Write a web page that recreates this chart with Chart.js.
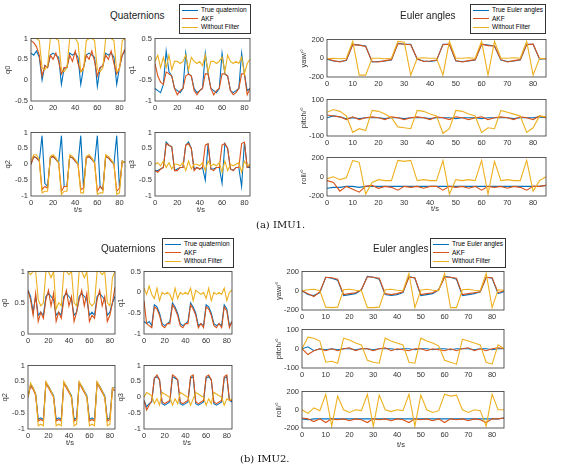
<!DOCTYPE html>
<html><head><meta charset="utf-8">
<script src="https://cdn.jsdelivr.net/npm/chart.js@4.4.0/dist/chart.umd.min.js"></script>
<style>
body{margin:0;background:#fff;width:565px;height:465px;position:relative;overflow:hidden;font-family:"Liberation Sans",Arial,sans-serif}
canvas{position:absolute}
.t{position:absolute;font-size:10px;color:#222;white-space:nowrap}
.lg{position:absolute;border:1px solid #333;background:#fff;font-size:6.5px;padding:1px 2px;line-height:8.5px;white-space:nowrap;box-sizing:border-box}
.lg i{display:inline-block;width:16px;height:0;border-top:1.6px solid;vertical-align:middle;margin-right:3px}
.cap{position:absolute;font-family:"DejaVu Serif","Liberation Serif",serif;font-size:10px;color:#111}
.xl{position:absolute;font-size:7.5px;color:#333}
</style></head><body>
<script>
const t=[0,2.5,5,7.5,10,12.5,15,17.5,20,22.5,25,27.5,30,32.5,35,37.5,40,42.5,45,47.5,50,52.5,55,57.5,60,62.5,65,67.5,70,72.5,75,77.5,80,82.5,85];
const seriesNames=["True quaternion","AKF","Without Filter"];
const eulerNames=["True Euler angles","AKF","Without Filter"];
const quatTicks=[0,20,40,60,80];
const eulerTicks=[0,10,20,30,40,50,60,70,80];
// IMU1 quaternions
const a_q0_true=[0.65,0.6,0.7,0.55,0.0,0.35,0.3,0.6,0.65,0.6,0.55,-0.1,0.3,0.3,0.65,0.6,0.65,0.55,-0.1,0.3,0.6,0.65,0.6,0.55,-0.15,0.3,0.35,0.65,0.6,0.65,0.55,-0.1,0.3,0.6,0.7];
const a_q0_akf=[0.95,0.9,0.8,0.6,0.1,0.35,0.3,0.6,0.5,0.65,0.45,0.15,0.3,0.3,0.6,0.45,0.7,0.4,0.2,0.3,0.6,0.5,0.7,0.45,0.1,0.3,0.35,0.6,0.5,0.7,0.4,0.15,0.3,0.6,0.75];
const a_q0_raw=[1,1,1,0.95,0.3,0.25,0.35,1,1,1,0.95,0.25,0.2,0.3,1,1,1,0.9,0.2,0.25,0.95,1,1,0.95,0.25,0.2,0.3,1,1,1,0.95,0.2,0.25,0.95,1];
const a_q1_true=[-0.7,-0.75,-0.8,-0.6,0.2,-0.3,-0.4,-0.7,-0.75,-0.8,-0.7,0.15,-0.35,-0.4,-0.7,-0.8,-0.75,-0.7,0.15,-0.35,-0.7,-0.75,-0.8,-0.7,0.15,-0.35,-0.4,-0.75,-0.8,-0.75,-0.7,0.15,-0.35,-0.75,-0.7];
const a_q1_akf=[-0.1,-0.4,-0.55,-0.6,-0.3,-0.35,-0.4,-0.7,-0.85,-0.75,-0.7,-0.4,-0.35,-0.4,-0.75,-0.85,-0.75,-0.7,-0.35,-0.35,-0.7,-0.85,-0.75,-0.7,-0.35,-0.35,-0.4,-0.75,-0.85,-0.8,-0.7,-0.35,-0.35,-0.85,-0.7];
const a_q1_raw=[-0.05,0.1,-0.2,0.05,-0.2,0.1,-0.25,-0.05,-0.05,-0.1,-0.05,0.1,-0.25,0.05,-0.05,-0.1,-0.05,-0.15,0.1,-0.3,-0.05,-0.05,-0.1,-0.05,0.05,-0.3,0.1,-0.05,-0.1,-0.05,-0.1,0.05,-0.35,-0.1,0];
const a_q2_true=[0,0.25,0.2,0.1,0.9,-0.6,-0.7,0.2,0.25,0.15,0.05,0.9,-0.7,-0.7,0.25,0.2,0.1,0,0.9,-0.75,0.2,0.25,0.15,0.05,0.9,-0.7,-0.8,0.25,0.2,0.1,0,0.9,-0.75,0.1,0.05];
const a_q2_akf=[0,0.25,0.2,0.1,-0.8,-0.7,-0.75,0.2,0.25,0.15,0.05,-0.85,-0.7,-0.7,0.25,0.2,0.1,0,-0.8,-0.75,0.2,0.25,0.15,0.05,-0.85,-0.7,-0.8,0.25,0.2,0.1,0,-0.85,-0.75,0.1,0.05];
const a_q2_raw=[0.1,0.3,0.3,0.15,-0.9,-0.85,-0.85,0.25,0.3,0.2,0.05,-0.95,-0.85,-0.85,0.3,0.25,0.15,0,-0.9,-0.9,0.25,0.3,0.2,0.05,-0.95,-0.9,-0.9,0.3,0.25,0.15,0,-0.95,-0.9,0.1,0.05];
const a_q3_true=[-0.2,-0.2,-0.15,-0.1,0.7,0.6,0.55,-0.2,-0.15,-0.1,-0.1,0.6,0.7,0.5,-0.15,-0.1,-0.15,-0.1,-0.5,0.65,-0.15,-0.15,-0.1,-0.1,-0.6,0.65,0.5,-0.15,-0.2,-0.1,-0.1,-0.7,0.7,-0.1,-0.1];
const a_q3_akf=[-0.2,-0.25,-0.15,-0.1,0.65,0.6,0.55,-0.2,-0.2,-0.1,-0.1,0.6,0.65,0.5,-0.2,-0.1,-0.15,-0.1,0.6,0.65,-0.15,-0.2,-0.1,-0.1,0.6,0.65,0.5,-0.15,-0.2,-0.1,-0.1,0.65,0.7,-0.1,-0.05];
const a_q3_raw=[0,0.05,-0.05,0.1,-0.1,0.05,-0.15,0,0,-0.05,0.05,-0.2,0.1,-0.15,0,0,-0.05,0.05,-0.2,0.1,-0.05,0,-0.05,0.05,-0.25,0.1,-0.2,0,-0.05,0,0.05,-0.25,0.1,-0.05,0];
// IMU1 Euler
const a_yaw_true=[-10,-30,-35,-25,150,140,130,-40,-35,-30,-20,160,150,150,-10,-30,-35,-25,150,150,-30,-35,-30,-20,150,140,130,-20,-35,-30,-20,150,150,-10,-5];
const a_yaw_akf=[-5,-25,-40,-20,145,140,125,-35,-40,-25,-15,155,150,145,-5,-35,-30,-20,145,150,-25,-40,-25,-15,150,135,130,-15,-40,-25,-15,145,150,-5,-5];
const a_yaw_raw=[-5,0,-5,0,180,-180,-180,0,0,-5,0,180,170,-180,0,5,0,0,-180,180,0,0,5,0,180,-180,180,0,0,5,0,180,-180,0,-5];
const a_pit_true=[0,10,5,-5,0,-5,0,0,0,-5,0,0,-5,0,0,0,-5,0,0,0,-5,0,0,0,-5,0,0,0,0,-5,0,0,0,5,0];
const a_pit_akf=[15,10,5,-10,5,-10,0,5,0,-10,5,0,-10,0,5,0,-10,5,0,-10,5,0,-10,0,5,-10,0,5,0,-10,5,0,-10,10,0];
const a_pit_raw=[30,45,35,10,-80,-60,-70,40,35,20,0,-50,-55,-60,40,35,20,10,-85,-60,40,35,20,10,-80,-55,-60,40,30,20,10,-80,-55,10,5];
const a_rol_true=[-120,-110,-110,-100,-100,-110,-100,-100,-100,-100,-100,-100,-100,-100,-100,-100,-100,-100,-100,-100,-100,-100,-100,-100,-100,-100,-100,-100,-100,-100,-100,-100,-100,-100,-90];
const a_rol_akf=[-40,-60,-150,-100,-130,-160,-100,-90,-120,-100,-110,-140,-100,-110,-100,-120,-100,-100,-140,-100,-110,-100,-120,-100,-140,-100,-110,-100,-120,-100,-110,-140,-100,-100,-90];
const a_rol_raw=[-20,0,-30,-10,170,150,-180,-60,-30,-40,-40,170,160,170,-40,-30,-40,-40,170,-180,-30,-40,-30,-40,170,-180,160,-40,-30,-40,-40,170,-150,-40,0];
// IMU2 quaternions
const b_q0_true=[0.7,0.6,0.35,0.6,0.3,0.35,0.3,0.6,0.65,0.6,0.55,0.3,0.35,0.3,0.6,0.65,0.6,0.55,0.3,0.35,0.6,0.65,0.6,0.55,0.3,0.35,0.3,0.6,0.65,0.6,0.55,0.3,0.35,0.5,0.6];
const b_q0_akf=[0.7,0.55,0.3,0.65,0.2,0.35,0.25,0.55,0.7,0.45,0.65,0.2,0.35,0.25,0.55,0.7,0.45,0.6,0.2,0.35,0.55,0.7,0.45,0.65,0.2,0.3,0.25,0.55,0.7,0.45,0.6,0.2,0.3,0.5,0.75];
const b_q0_raw=[1,0.95,1,1,0.55,0.45,0.5,1,1,0.9,1,0.4,0.5,0.45,1,1,0.95,1,0.5,0.45,1,1,0.9,1,0.5,0.45,0.5,1,1,0.95,1,0.5,0.45,0.9,1];
const b_q1_true=[-0.7,-0.75,-0.7,-0.8,-0.3,-0.35,-0.5,-0.75,-0.8,-0.75,-0.7,-0.25,-0.35,-0.5,-0.75,-0.8,-0.75,-0.7,-0.25,-0.35,-0.5,-0.8,-0.75,-0.8,-0.3,-0.35,-0.5,-0.75,-0.8,-0.75,-0.8,-0.3,-0.4,-0.8,-0.7];
const b_q1_akf=[-0.2,-0.75,-0.8,-0.85,-0.35,-0.4,-0.55,-0.8,-0.85,-0.75,-0.75,-0.3,-0.4,-0.55,-0.8,-0.85,-0.75,-0.75,-0.3,-0.4,-0.55,-0.85,-0.75,-0.85,-0.35,-0.4,-0.55,-0.8,-0.85,-0.75,-0.85,-0.35,-0.45,-0.85,-0.7];
const b_q1_raw=[0.1,-0.05,0.15,-0.05,-0.15,0.1,-0.2,0,-0.05,0,-0.05,-0.2,0.1,-0.15,0,-0.05,0,-0.05,0.1,-0.2,0.05,0,-0.05,0,-0.15,0.1,-0.2,0,-0.05,0,-0.05,0.1,-0.2,0,0.05];
const b_q2_true=[0,0.4,0.3,0.1,-0.7,-0.65,-0.7,0.45,0.35,0.2,0.05,-0.7,-0.65,-0.7,0.45,0.35,0.2,0.05,-0.7,-0.65,0.45,0.35,0.2,0.05,-0.7,-0.65,-0.7,0.45,0.35,0.2,0.05,-0.7,-0.65,0.3,0.3];
const b_q2_akf=[0,0.35,0.25,0.05,-0.75,-0.7,-0.75,0.45,0.3,0.15,0,-0.75,-0.7,-0.75,0.45,0.3,0.15,0,-0.75,-0.7,0.45,0.3,0.15,0,-0.75,-0.7,-0.75,0.45,0.3,0.15,0,-0.75,-0.7,0.25,0.2];
const b_q2_raw=[0,0.45,0.3,0.1,-0.9,-0.85,-0.9,0.5,0.35,0.2,0,-0.9,-0.85,-0.9,0.5,0.35,0.2,0,-0.9,-0.85,0.5,0.35,0.2,0,-0.9,-0.85,-0.9,0.5,0.35,0.2,0,-0.9,-0.85,0.3,0.3];
const b_q3_true=[-0.1,-0.3,-0.2,-0.15,0.6,0.65,0.55,-0.2,-0.25,-0.2,-0.15,0.65,0.6,0.55,-0.2,-0.25,-0.2,-0.15,0.6,0.65,-0.2,-0.25,-0.2,-0.15,0.6,0.65,0.55,-0.2,-0.25,-0.2,-0.15,0.6,0.65,-0.1,-0.15];
const b_q3_akf=[-0.1,-0.4,-0.25,-0.1,0.6,0.7,0.55,-0.15,-0.2,-0.15,-0.1,0.7,0.65,0.55,-0.15,-0.2,-0.15,-0.1,0.65,0.7,-0.15,-0.2,-0.15,-0.1,0.65,0.7,0.55,-0.15,-0.2,-0.15,-0.1,0.65,0.7,-0.1,-0.1];
const b_q3_raw=[0,0.15,0.1,0.05,-0.2,-0.05,-0.25,0.15,0.1,0.05,0,-0.25,-0.05,-0.2,0.15,0.1,0.05,0,-0.25,-0.05,0.15,0.1,0.05,0,-0.25,-0.05,-0.2,0.15,0.1,0.05,0,-0.25,-0.05,-0.1,-0.05];
// IMU2 Euler
const b_yaw_true=[0,-40,-50,-20,140,130,110,-50,-40,-30,10,150,140,120,-40,-50,-40,-20,150,130,-50,-40,-30,10,150,140,120,-50,-40,-30,-10,140,130,-30,-10];
const b_yaw_akf=[0,-30,-60,-10,140,135,120,-40,-30,-20,10,145,140,130,-30,-40,-30,-10,140,135,-40,-30,-20,10,140,140,130,-40,-30,-20,-10,140,135,-20,0];
const b_yaw_raw=[0,10,15,0,-170,-175,-170,10,15,5,0,-175,-175,-170,10,15,5,0,180,-175,5,15,5,0,180,-175,-175,10,15,5,0,180,-175,10,5];
const b_pit_true=[0,10,-10,0,-5,0,-5,0,0,-5,0,0,-5,0,0,0,-5,0,0,-5,0,0,-5,0,0,-5,0,0,0,-5,0,0,-5,0,0];
const b_pit_akf=[0,-30,-10,0,-10,0,-10,0,5,-10,0,0,-10,0,5,-10,0,-5,-10,0,0,-10,0,-5,-10,0,-10,0,5,-10,0,-10,0,5,0];
const b_pit_raw=[0,60,55,40,-70,-65,-75,55,45,30,20,-60,-70,-75,55,40,30,20,-70,-75,55,40,30,15,-60,-70,-80,50,40,30,20,-70,-80,20,0];
const b_rol_true=[-100,-110,-100,-100,-100,-100,-100,-100,-100,-100,-100,-100,-100,-100,-100,-100,-100,-100,-100,-100,-100,-100,-100,-100,-100,-100,-100,-100,-100,-100,-100,-100,-100,-100,-90];
const b_rol_akf=[-90,-100,-130,-100,-140,-100,-110,-100,-120,-100,-110,-140,-100,-110,-100,-120,-100,-110,-140,-100,-110,-100,-120,-100,-140,-100,-110,-100,-120,-100,-110,-140,-100,-100,-90];
const b_rol_raw=[0,-40,20,-10,170,-180,150,0,-30,0,-10,170,-180,160,0,-20,0,-10,170,-180,160,0,-30,-10,170,150,160,0,-30,0,-10,-180,170,0,0];

const C=["#0072BD","#D95319","#EDB120"];
const LW=28, BH=12;
const boxPlugin={id:'box',afterDraw(c){const a=c.chartArea,g=c.ctx;g.save();g.strokeStyle='#333';g.lineWidth=0.8;g.strokeRect(a.left,a.top,a.right-a.left,a.bottom-a.top);g.restore();}};
function plot(x0,y0,x1,y1,lab,ymin,ymax,ystep,xt,s){
  const cv=document.createElement('canvas');
  const w=(x1-x0)+LW+10,h=(y1-y0)+4+BH+6;
  cv.width=w;cv.height=h;cv.style.left=(x0-LW)+'px';cv.style.top=(y0-4)+'px';
  document.body.appendChild(cv);
  new Chart(cv,{type:'line',data:{labels:t,datasets:s.map((d,i)=>({data:t.map((x,k)=>({x:x,y:d[k]})),borderColor:C[i],borderWidth:1.1,pointRadius:0,tension:0,order:3-i,fill:false}))},
   options:{responsive:false,animation:false,layout:{padding:{top:4,right:10,left:0,bottom:6}},
    plugins:{legend:{display:false},tooltip:{enabled:false}},
    scales:{x:{type:'linear',min:0,max:85,grid:{display:false,tickLength:0},border:{display:false},
      afterBuildTicks(sc){sc.ticks=xt.map(v=>({value:v}));},
      ticks:{font:{size:7.5},color:'#333',padding:2,maxRotation:0,autoSkip:false,callback:v=>String(v)},afterFit(sc){sc.height=BH;}},
     y:{min:ymin,max:ymax,grid:{display:false,tickLength:0},border:{display:false},ticks:{stepSize:ystep,font:{size:7.5},color:'#333',padding:3,callback:v=>String(+v.toFixed(2))},title:{display:true,text:lab,font:{size:7.5},color:'#333',padding:0},afterFit(sc){sc.width=LW;}}}},
   plugins:[boxPlugin]});
}
function txt(cls,x,y,s){const d=document.createElement('div');d.className=cls;d.style.left=x+'px';d.style.top=y+'px';d.textContent=s;document.body.appendChild(d);}
function legend(x,y,w,names){const d=document.createElement('div');d.className='lg';d.style.left=x+'px';d.style.top=y+'px';d.style.width=w+'px';
 d.innerHTML=names.map((n,i)=>'<div><i style="border-color:'+C[i]+'"></i>'+n+'</div>').join('');document.body.appendChild(d);}

// IMU1
plot(31,35,125,101,"q0",-0.5,1,0.5,quatTicks,[a_q0_true,a_q0_akf,a_q0_raw]);
plot(155,35,250,101,"q1",-1,0.5,0.5,quatTicks,[a_q1_true,a_q1_akf,a_q1_raw]);
plot(31,129,125,196,"q2",-1,1,0.5,quatTicks,[a_q2_true,a_q2_akf,a_q2_raw]);
plot(155,129,250,196,"q3",-1,1,0.5,quatTicks,[a_q3_true,a_q3_akf,a_q3_raw]);
plot(327,36,546,77,"yaw/°",-200,200,200,eulerTicks,[a_yaw_true,a_yaw_akf,a_yaw_raw]);
plot(327,96,546,136,"pitch/°",-100,100,100,eulerTicks,[a_pit_true,a_pit_akf,a_pit_raw]);
plot(327,154,546,196,"roll/°",-200,200,200,eulerTicks,[a_rol_true,a_rol_akf,a_rol_raw]);
// IMU2
plot(28,268,115,334,"q0",0,1,0.5,quatTicks,[b_q0_true,b_q0_akf,b_q0_raw]);
plot(144,268,232,334,"q1",-1,0.5,0.5,quatTicks,[b_q1_true,b_q1_akf,b_q1_raw]);
plot(28,362,115,429,"q2",-1,1,0.5,quatTicks,[b_q2_true,b_q2_akf,b_q2_raw]);
plot(144,362,232,429,"q3",-1,1,0.5,quatTicks,[b_q3_true,b_q3_akf,b_q3_raw]);
plot(302,268,504,310,"yaw/°",-200,200,200,eulerTicks,[b_yaw_true,b_yaw_akf,b_yaw_raw]);
plot(302,326,504,368,"pitch/°",-100,100,100,eulerTicks,[b_pit_true,b_pit_akf,b_pit_raw]);
plot(302,388,504,428,"roll/°",-200,200,200,eulerTicks,[b_rol_true,b_rol_akf,b_rol_raw]);

txt('t',110,10,"Quaternions");
txt('t',400,10,"Euler angles");
txt('t',101,243,"Quaternions");
txt('t',373,243,"Euler angles");
legend(179,4,72,seriesNames);
legend(470,4,76,eulerNames);
legend(162,238,72,seriesNames);
legend(430,238,76,eulerNames);
txt('xl',74,205,"t/s");txt('xl',197,205,"t/s");txt('xl',431,204,"t/s");
txt('xl',66,438,"t/s");txt('xl',183,438,"t/s");txt('xl',397,440,"t/s");
txt('cap',256,219,"(a) IMU1.");
txt('cap',240,453,"(b) IMU2.");
</script>
</body></html>
